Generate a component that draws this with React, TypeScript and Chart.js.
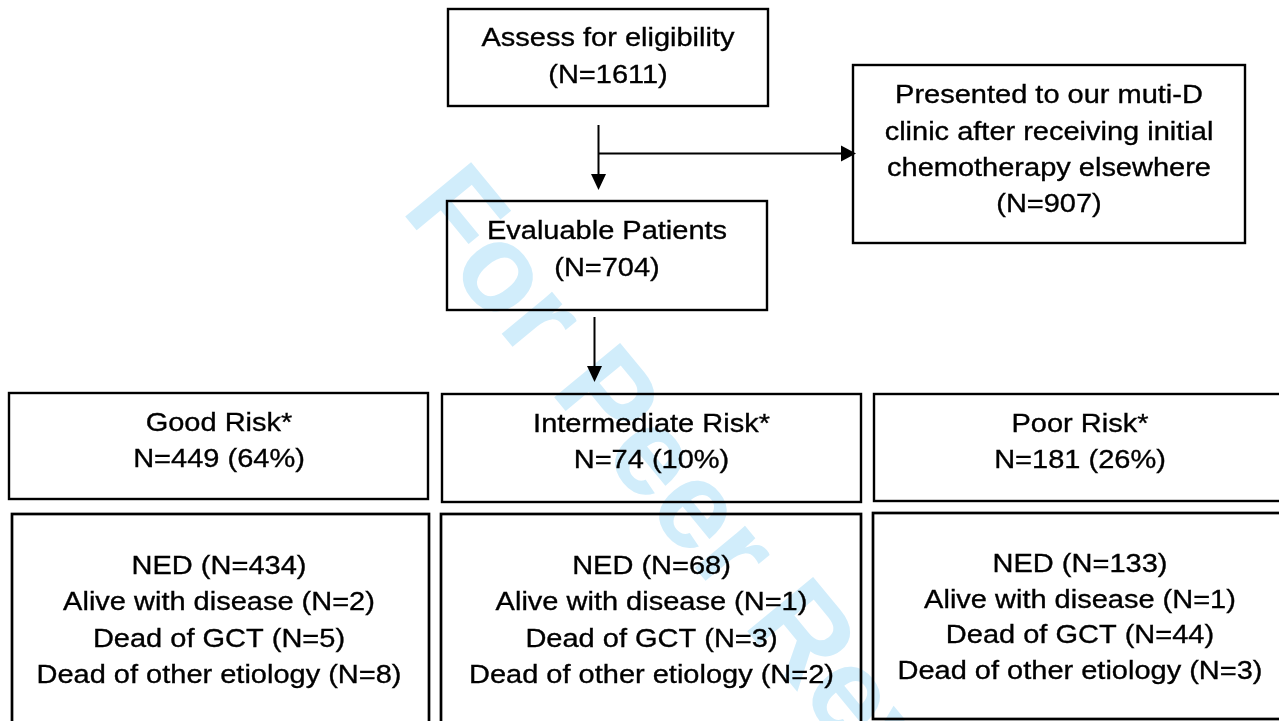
import React, { useEffect, useRef } from 'react';
import { Chart, registerables } from 'chart.js';

Chart.register(...registerables);

// ---------- data ----------
const eligibleLabel = 'Assess for eligibility';
const eligibleN = 1611;
const externalLines = ['Presented to our muti-D', 'clinic after receiving initial', 'chemotherapy elsewhere'];
const externalN = 907;
const evaluableLabel = 'Evaluable Patients';
const evaluableN = 704;
const riskGroups = ['Good Risk*', 'Intermediate Risk*', 'Poor Risk*'];
const riskN = [449, 74, 181];
const riskPct = [64, 10, 26];
const outcomeLabels = ['NED', 'Alive with disease', 'Dead of GCT', 'Dead of other etiology'];
const nedN = [434, 68, 133];
const aliveN = [2, 1, 1];
const deadGctN = [5, 3, 44];
const deadOtherN = [8, 2, 3];
const watermarkText = 'For Peer Review';

// ---------- layout (data units = pixels of the 1279x721 frame) ----------
const W = 1279;
const H = 721;
const eligibleRect = [448, 9, 768, 106];
const eligibleCx = 608;
const eligibleBase = [46, 83];
const externalRect = [853, 65, 1245, 243];
const externalCx = 1049;
const externalBase = [103, 140, 176, 212];
const evaluableRect = [447, 201, 767, 310];
const evaluableCx = 607;
const evaluableBase = [239, 276];
const riskRects = [[9, 393, 428, 499], [442, 394, 861, 502], [874, 394, 1292, 501]];
const riskCx = [219, 651.5, 1080];
const riskBase = [[431, 467], [432, 468], [432, 468]];
const outRects = [[12, 514, 429, 780], [441, 514, 861, 780], [873, 513, 1292, 719]];
const outBase = [[574, 610, 646.5, 683], [573.5, 610, 646.5, 683], [572, 607.5, 643, 678.5]];
const watermarkOrigin = [400, 210];

const FONT = '"Liberation Sans", Arial, Helvetica, sans-serif';
const FONT_PX = 26.5;
const HSCALE = 1.094;

const flowPlugin = {
  id: 'flow',
  beforeDatasetsDraw(chart: any) {
    const ctx: CanvasRenderingContext2D = chart.ctx;
    const xs = chart.scales.x;
    const ys = chart.scales.y;
    const px = (v: number) => xs.getPixelForValue(v);
    const py = (v: number) => ys.getPixelForValue(v);

    ctx.save();
    ctx.fillStyle = '#ffffff';
    ctx.fillRect(0, 0, chart.width, chart.height);

    // watermark
    ctx.save();
    ctx.translate(px(watermarkOrigin[0]), py(watermarkOrigin[1]));
    ctx.rotate((50.5 * Math.PI) / 180);
    ctx.fillStyle = 'rgb(209, 237, 251)';
    ctx.font = `bold 124px ${FONT}`;
    ctx.textAlign = 'left';
    ctx.textBaseline = 'alphabetic';
    ctx.fillText(watermarkText, 0, 0);
    ctx.restore();

    const rect = (r: number[], lw = 2.4) => {
      ctx.save();
      ctx.strokeStyle = '#000';
      ctx.lineWidth = lw;
      ctx.strokeRect(px(r[0]), py(r[1]), px(r[2]) - px(r[0]), py(r[3]) - py(r[1]));
      ctx.restore();
    };
    const text = (s: string, cx: number, base: number) => {
      ctx.save();
      ctx.translate(px(cx), py(base));
      ctx.scale(HSCALE, 1);
      ctx.fillStyle = '#000';
      ctx.strokeStyle = '#000';
      ctx.lineWidth = 0.35;
      ctx.font = `${FONT_PX}px ${FONT}`;
      ctx.textAlign = 'center';
      ctx.textBaseline = 'alphabetic';
      ctx.fillText(s, 0, 0);
      ctx.strokeText(s, 0, 0);
      ctx.restore();
    };
    const line = (x0: number, y0: number, x1: number, y1: number) => {
      ctx.save();
      ctx.strokeStyle = '#000';
      ctx.lineWidth = 2;
      ctx.beginPath();
      ctx.moveTo(px(x0), py(y0));
      ctx.lineTo(px(x1), py(y1));
      ctx.stroke();
      ctx.restore();
    };
    const headDown = (x: number, tip: number) => {
      ctx.save();
      ctx.fillStyle = '#000';
      ctx.beginPath();
      ctx.moveTo(px(x), py(tip));
      ctx.lineTo(px(x - 7.5), py(tip - 16));
      ctx.lineTo(px(x + 7.5), py(tip - 16));
      ctx.closePath();
      ctx.fill();
      ctx.restore();
    };
    const headRight = (tip: number, y: number) => {
      ctx.save();
      ctx.fillStyle = '#000';
      ctx.beginPath();
      ctx.moveTo(px(tip), py(y));
      ctx.lineTo(px(tip - 15), py(y - 8));
      ctx.lineTo(px(tip - 15), py(y + 8));
      ctx.closePath();
      ctx.fill();
      ctx.restore();
    };

    // arrows
    line(598.5, 125, 598.5, 178);
    headDown(598.5, 190);
    line(598.5, 153.5, 842, 153.5);
    headRight(856, 153.5);
    line(594.5, 317, 594.5, 370);
    headDown(594.5, 382);

    // top boxes
    rect(eligibleRect);
    text(eligibleLabel, eligibleCx, eligibleBase[0]);
    text(`(N=${eligibleN})`, eligibleCx, eligibleBase[1]);

    rect(externalRect);
    externalLines.forEach((s, i) => text(s, externalCx, externalBase[i]));
    text(`(N=${externalN})`, externalCx, externalBase[3]);

    rect(evaluableRect);
    text(evaluableLabel, evaluableCx, evaluableBase[0]);
    text(`(N=${evaluableN})`, evaluableCx, evaluableBase[1]);

    // risk groups and outcomes
    riskGroups.forEach((g, i) => {
      rect(riskRects[i]);
      text(g, riskCx[i], riskBase[i][0]);
      text(`N=${riskN[i]} (${riskPct[i]}%)`, riskCx[i], riskBase[i][1]);
      rect(outRects[i], 2.7);
      const vals = [nedN[i], aliveN[i], deadGctN[i], deadOtherN[i]];
      outcomeLabels.forEach((lab, j) => {
        text(`${lab} (N=${vals[j]})`, riskCx[i], outBase[i][j]);
      });
    });

    ctx.restore();
  },
};

export default function App() {
  const ref = useRef<HTMLCanvasElement | null>(null);
  useEffect(() => {
    document.body.style.margin = '0';
    document.body.style.overflow = 'hidden';
    const canvas = ref.current;
    if (!canvas) return;
    const chart = new Chart(canvas, {
      type: 'scatter',
      data: { datasets: [{ data: [], showLine: false, pointRadius: 0 }] },
      options: {
        responsive: false,
        animation: false,
        devicePixelRatio: 1,
        layout: { padding: 0 },
        plugins: { legend: { display: false }, tooltip: { enabled: false }, title: { display: false } },
        scales: {
          x: { type: 'linear', min: 0, max: W, display: false },
          y: { type: 'linear', min: 0, max: H, reverse: true, display: false },
        },
      },
      plugins: [flowPlugin],
    });
    return () => chart.destroy();
  }, []);
  return (
    <div style={{ width: W, height: H, background: '#fff' }}>
      <canvas ref={ref} width={W} height={H} style={{ display: 'block', width: W, height: H }} />
    </div>
  );
}
